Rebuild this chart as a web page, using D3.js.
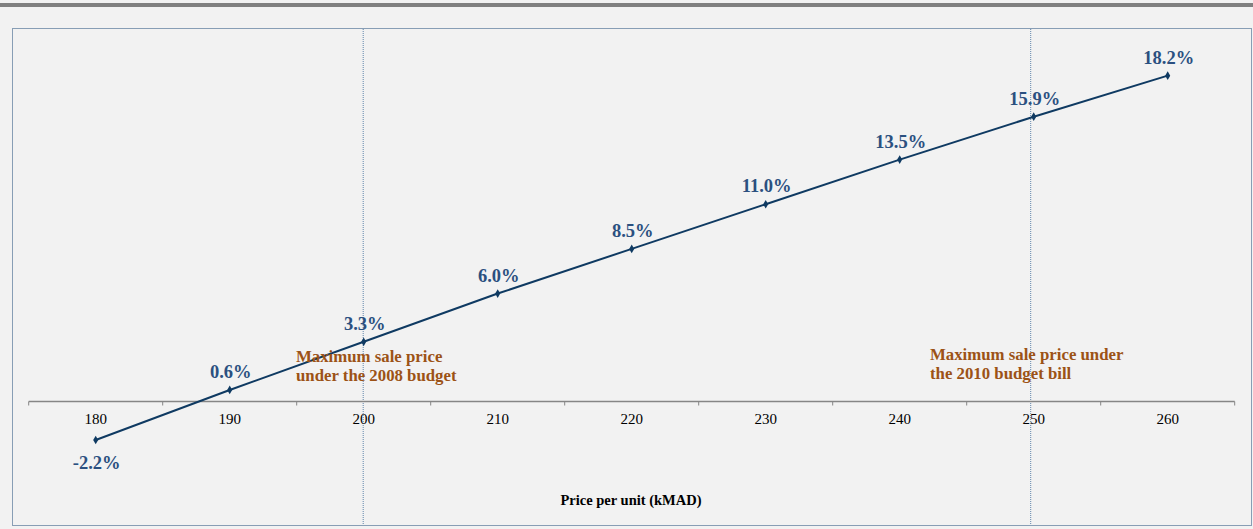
<!DOCTYPE html>
<html>
<head>
<meta charset="utf-8">
<script src="https://cdn.jsdelivr.net/npm/d3@7"></script>
<style>
  html, body { margin: 0; padding: 0; background: #f2f2f2; }
  svg { display: block; }
  text { font-family: "Liberation Serif", "Times New Roman", serif; }
</style>
</head>
<body>
<svg id="chart" width="1253" height="529"></svg>
<script>
// Price per unit (kMAD) and the resulting margin (%)
const prices = [180, 190, 200, 210, 220, 230, 240, 250, 260];
const margins = [-2.2, 0.6, 3.3, 6.0, 8.5, 11.0, 13.5, 15.9, 18.2];

// Reference prices marked with vertical lines
const markerPrices = [200, 250];
const markerNotes = [
  ["Maximum sale price", "under the 2008 budget"],
  ["Maximum sale price under", "the 2010 budget bill"]
];

const axisTitle = "Price per unit (kMAD)";

const svg = d3.select("#chart");
const W = 1253, H = 529;

svg.append("rect").attr("width", W).attr("height", H).attr("fill", "#f2f2f2");

// header rule
svg.append("rect").attr("x", 0).attr("y", 3).attr("width", W).attr("height", 4).attr("fill", "#808080");

// chart frame (dotted)
svg.append("rect")
  .attr("x", 12.5).attr("y", 28.5).attr("width", 1239).attr("height", 497)
  .attr("fill", "none").attr("stroke", "#1f4a78").attr("stroke-width", 1)
  .attr("stroke-dasharray", "1,1");

const x = d3.scaleBand().domain(prices).range([28.7, 1234.7]).padding(0);
const cx = d => x(d) + x.bandwidth() / 2;
const y = d3.scaleLinear().domain([-5, 20]).range([490, 43.5]);

// vertical reference lines
const vOffsets = [-0.5, -3];
svg.selectAll(".vline").data(markerPrices).enter().append("line")
  .attr("class", "vline")
  .attr("x1", (d, i) => cx(d) + vOffsets[i]).attr("x2", (d, i) => cx(d) + vOffsets[i])
  .attr("y1", 29).attr("y2", 525)
  .attr("stroke", "#5f84aa").attr("stroke-width", 1).attr("stroke-dasharray", "1,1");

// horizontal category axis at 0%
const axisY = Math.round(y(0)) + 0.5;
const axisG = svg.append("g").attr("transform", `translate(0,${axisY})`);
axisG.append("line").attr("x1", x.range()[0]).attr("x2", x.range()[1])
  .attr("stroke", "#868686").attr("stroke-width", 1.5);
const bounds = prices.map(p => x(p)).concat([x.range()[1]]);
axisG.selectAll(".tick-mark").data(bounds).enter().append("line")
  .attr("x1", d => d).attr("x2", d => d).attr("y1", 0).attr("y2", 4)
  .attr("stroke", "#868686").attr("stroke-width", 1);
axisG.selectAll(".tick-label").data(prices).enter().append("text")
  .attr("x", d => cx(d)).attr("y", 22)
  .attr("text-anchor", "middle").attr("font-size", 15).attr("fill", "#000")
  .text(d => d);

// axis title
svg.append("text").attr("x", 631).attr("y", 505)
  .attr("text-anchor", "middle").attr("font-size", 14.5).attr("font-weight", "bold")
  .attr("fill", "#000").text(axisTitle);

// margin line
const pts = prices.map((p, i) => ({ p, v: margins[i] }));
const line = d3.line().x(d => cx(d.p)).y(d => y(d.v));
svg.append("path").datum(pts).attr("d", line)
  .attr("fill", "none").attr("stroke", "#0f3a62").attr("stroke-width", 2);

// markers
svg.selectAll(".mk").data(pts).enter().append("path")
  .attr("d", d3.symbol().type(d3.symbolDiamond).size(22))
  .attr("transform", d => `translate(${cx(d.p)},${y(d.v)})`)
  .attr("fill", "#0f3a62");

// value labels
svg.selectAll(".vl").data(pts).enter().append("text")
  .attr("x", d => cx(d.p) + 1)
  .attr("y", d => d.v < 0 ? y(d.v) + 29 : y(d.v) - 12)
  .attr("text-anchor", "middle").attr("font-size", 18.5).attr("font-weight", "bold")
  .attr("fill", "#2b5080")
  .text(d => d.v.toFixed(1) + "%");

// annotations
const noteX = [296, 930];
const noteY = [362, 360];
markerNotes.forEach((lines, i) => {
  const t = svg.append("text").attr("x", noteX[i]).attr("y", noteY[i])
    .attr("font-size", 16.8).attr("font-weight", "bold").attr("fill", "#9c5216");
  lines.forEach((s, j) => {
    t.append("tspan").attr("x", noteX[i]).attr("dy", j === 0 ? 0 : 18.5).text(s);
  });
});
</script>
</body>
</html>
